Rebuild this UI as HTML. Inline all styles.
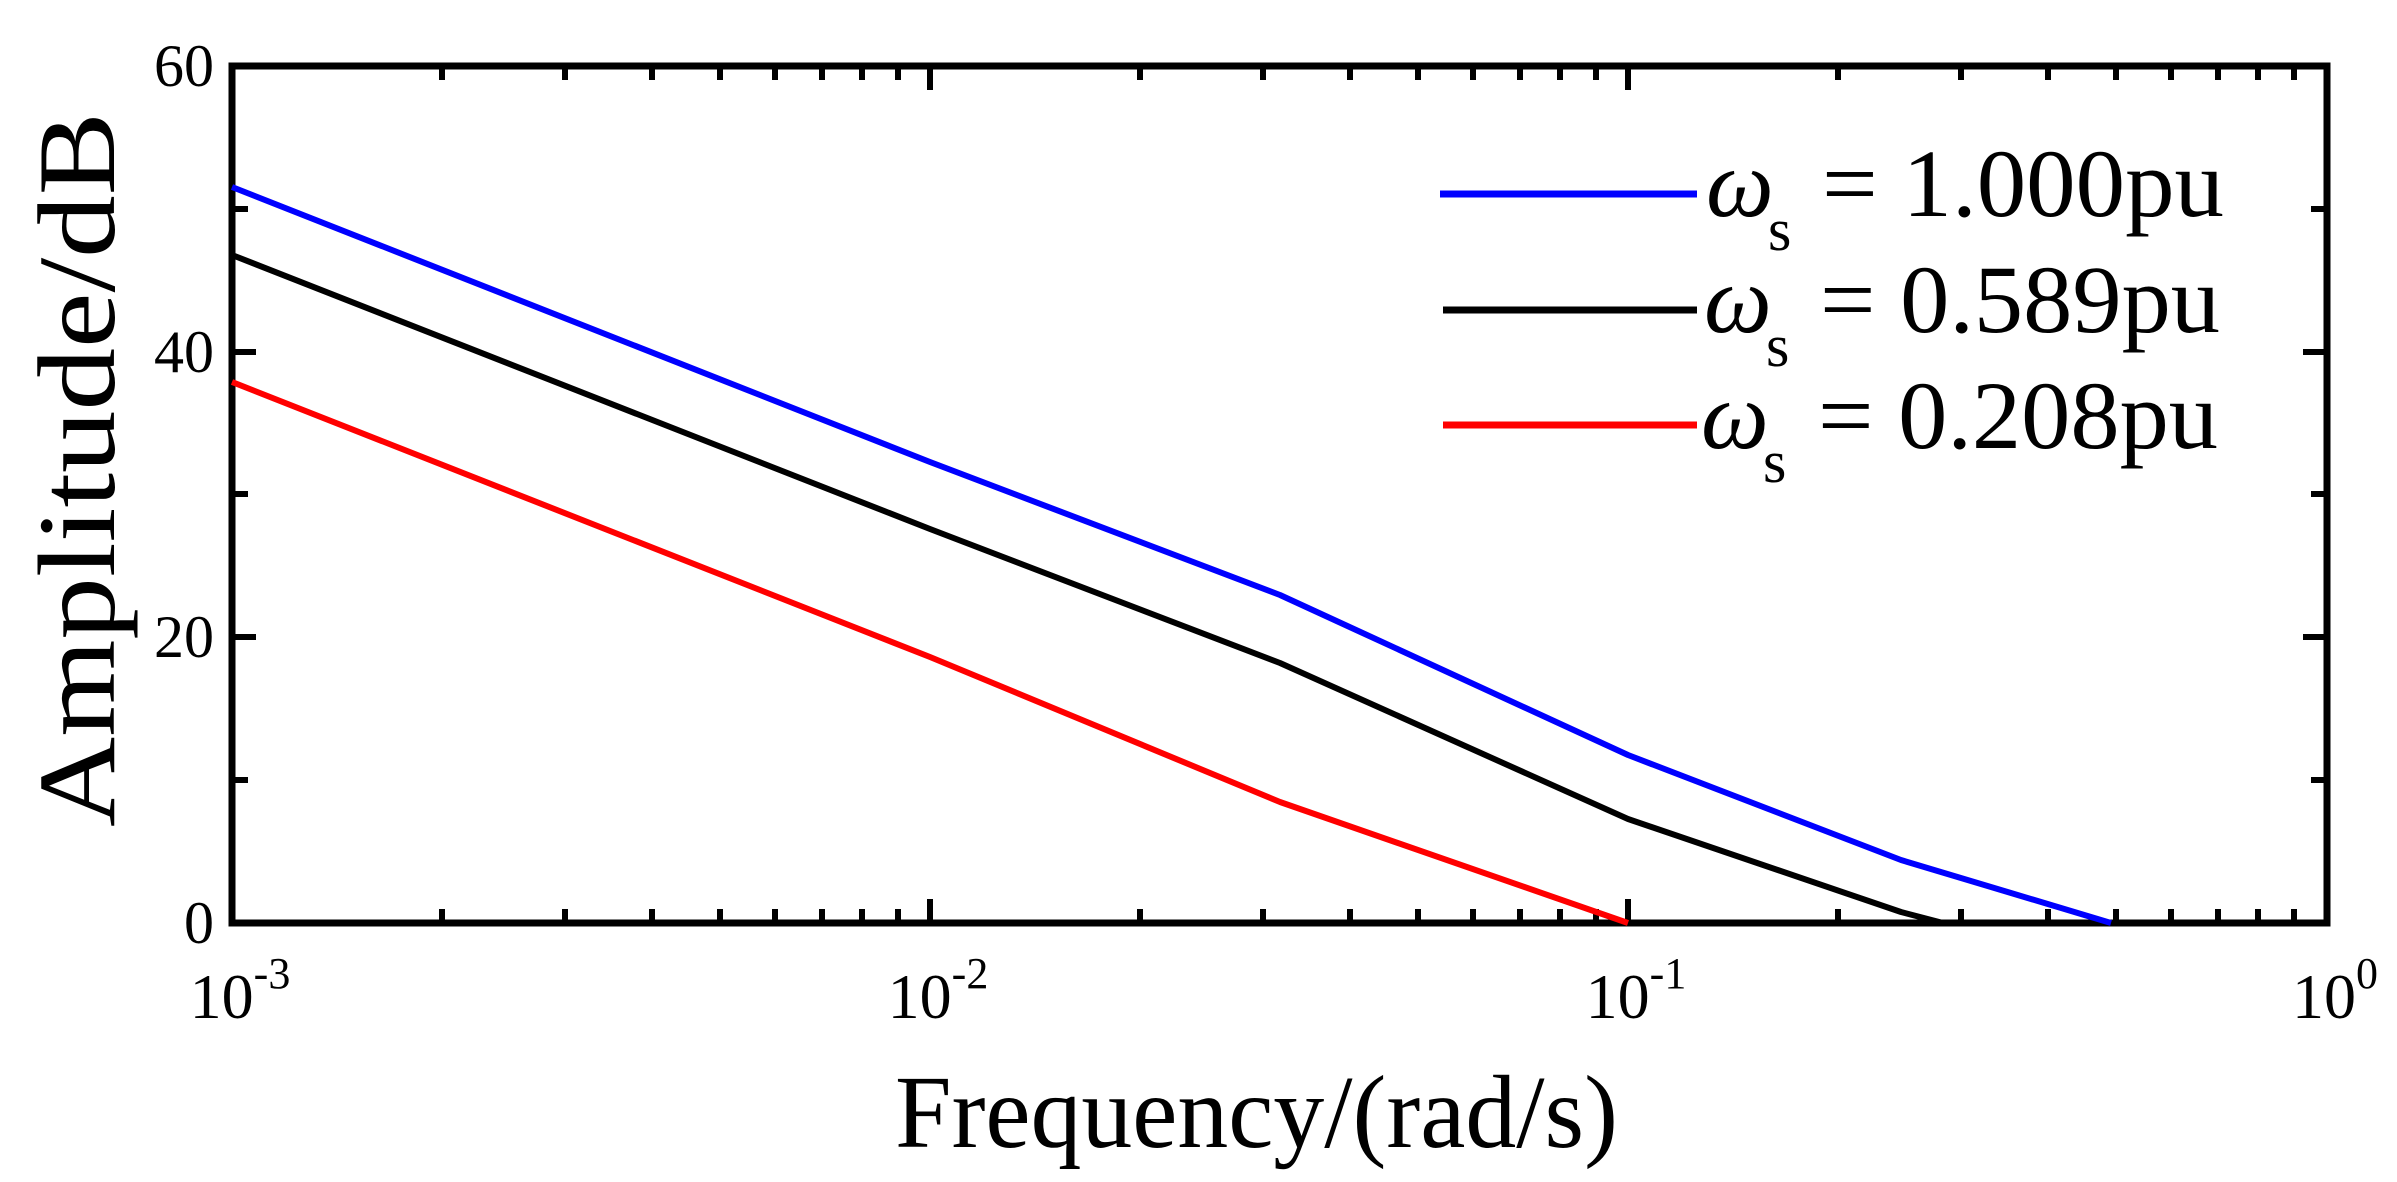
<!DOCTYPE html>
<html><head><meta charset="utf-8"><style>html,body{margin:0;padding:0;background:#fff}svg{display:block}</style></head>
<body>
<svg width="2397" height="1182" viewBox="0 0 2397 1182" xmlns="http://www.w3.org/2000/svg" font-family="Liberation Serif, serif">
<rect width="2397" height="1182" fill="#fff"/>
<g stroke="#000" stroke-width="6">
<path d="M232 66h24M232 209h16M232 352h24M232 494h16M232 637h24M232 780h16M2327 66h-24M2327 209h-16M2327 352h-24M2327 494h-16M2327 637h-24M2327 780h-16"/>
<path d="
M442 923v-14M565 923v-14M652 923v-14M720 923v-14M775 923v-14M822 923v-14M862 923v-14M898 923v-14M930 923v-24
M1140 923v-14M1263 923v-14M1350 923v-14M1418 923v-14M1473 923v-14M1520 923v-14M1560 923v-14M1596 923v-14M1628 923v-24
M1838 923v-14M1961 923v-14M2048 923v-14M2116 923v-14M2171 923v-14M2218 923v-14M2258 923v-14M2294 923v-14
M442 66v14M565 66v14M652 66v14M720 66v14M775 66v14M822 66v14M862 66v14M898 66v14M930 66v24
M1140 66v14M1263 66v14M1350 66v14M1418 66v14M1473 66v14M1520 66v14M1560 66v14M1596 66v14M1628 66v24
M1838 66v14M1961 66v14M2048 66v14M2116 66v14M2171 66v14M2218 66v14M2258 66v14M2294 66v14"/>
</g>
<rect x="232" y="66" width="2095" height="857" fill="none" stroke="#000" stroke-width="7"/>
<g fill="none" stroke-width="6" stroke-linejoin="round">
<polyline stroke="#0000ff" points="232,187 930,462 1280,595 1628,755 1901,860 2111,923"/>
<polyline stroke="#000" points="232,255 930,529 1280,663 1628,819 1901,912 1943,923"/>
<polyline stroke="#ff0000" points="232,382 930,657 1280,802 1628,923"/>
</g>
<g font-size="60" text-anchor="end">
<text x="214" y="943">0</text>
<text x="214" y="657">20</text>
<text x="214" y="372">40</text>
<text x="214" y="86">60</text>
</g>
<g font-size="64" text-anchor="middle">
<text x="240" y="1018">10<tspan font-size="44" dy="-30">-3</tspan></text>
<text x="938" y="1018">10<tspan font-size="44" dy="-30">-2</tspan></text>
<text x="1636" y="1018">10<tspan font-size="44" dy="-30">-1</tspan></text>
<text x="2335" y="1018">10<tspan font-size="44" dy="-30">0</tspan></text>
</g>
<text x="895" y="1147" font-size="104" textLength="723" lengthAdjust="spacingAndGlyphs">Frequency/(rad/s)</text>
<text transform="translate(114,827) rotate(-90)" font-size="110" textLength="715" lengthAdjust="spacingAndGlyphs">Amplitude/dB</text>
<g stroke-width="7">
<line x1="1440" y1="194" x2="1697" y2="194" stroke="#0000ff"/>
<line x1="1443" y1="310" x2="1697" y2="310" stroke="#000"/>
<line x1="1443" y1="425" x2="1697" y2="425" stroke="#ff0000"/>
</g>
<g font-size="96">
<text x="1706" y="216" font-style="italic">ω</text><text x="1768" y="250" font-size="60">s</text><text x="1822" y="216" textLength="402" lengthAdjust="spacingAndGlyphs">= 1.000pu</text>
<text x="1704" y="332" font-style="italic">ω</text><text x="1766" y="366" font-size="60">s</text><text x="1820" y="332" textLength="400" lengthAdjust="spacingAndGlyphs">= 0.589pu</text>
<text x="1701" y="448" font-style="italic">ω</text><text x="1763" y="482" font-size="60">s</text><text x="1818" y="448" textLength="400" lengthAdjust="spacingAndGlyphs">= 0.208pu</text>
</g>
</svg>
</body></html>
